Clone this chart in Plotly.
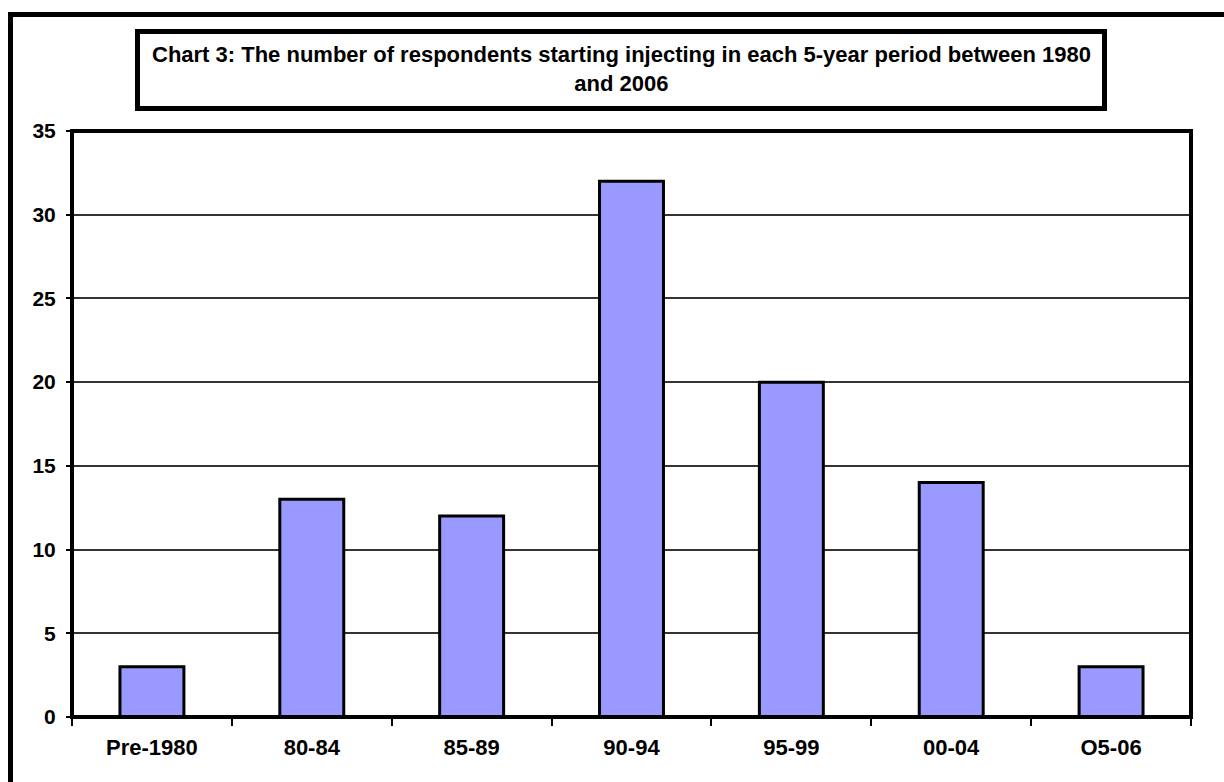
import plotly.graph_objects as go

# Chart data
periods = ["Pre-1980", "80-84", "85-89", "90-94", "95-99", "00-04", "O5-06"]
respondents = [3, 13, 12, 32, 20, 14, 3]
y_ticks = [0, 5, 10, 15, 20, 25, 30, 35]

title_text = ("Chart 3: The number of respondents starting injecting in each "
              "5-year period between 1980<br>and 2006")

W, H = 1224, 782
ML, MR, MT, MB = 72, 33, 131, 65
PW, PH = W - ML - MR, H - MT - MB
FONT = "Arial, Liberation Sans, sans-serif"


def px_x(px):
    return (px - ML) / PW


def px_y(py):
    return (H - MB - py) / PH


fig = go.Figure(
    go.Bar(
        x=periods,
        y=respondents,
        marker=dict(color="#9999FF", line=dict(color="black", width=3)),
    )
)

fig.update_layout(
    width=W,
    height=H,
    margin=dict(l=ML, r=MR, t=MT, b=MB, pad=0),
    paper_bgcolor="white",
    plot_bgcolor="white",
    bargap=0.6,
    showlegend=False,
    font=dict(family=FONT, color="black"),
    xaxis=dict(
        type="category",
        showgrid=False,
        showline=False,
        zeroline=False,
        ticks="outside",
        tickson="boundaries",
        ticklen=8,
        tickwidth=1.5,
        tickcolor="black",
        tickfont=dict(family=FONT, size=22, color="black", weight="bold"),
        ticklabelstandoff=15,
    ),
    yaxis=dict(
        range=[0, 35],
        tickvals=y_ticks,
        showgrid=True,
        gridcolor="#333333",
        gridwidth=1.5,
        showline=False,
        zeroline=False,
        ticks="outside",
        ticklen=5,
        tickwidth=1.5,
        tickcolor="black",
        tickfont=dict(family=FONT, size=21, color="black", weight="bold"),
        ticklabelstandoff=6,
    ),
    shapes=[
        # plot area frame
        dict(type="rect", xref="paper", yref="paper", x0=0, x1=1, y0=0, y1=1,
             line=dict(color="black", width=4), layer="above"),
        # title box
        dict(type="rect", xref="paper", yref="paper",
             x0=px_x(137.5), x1=px_x(1104.5), y0=px_y(108.5), y1=px_y(31.5),
             line=dict(color="black", width=5), fillcolor="white", layer="above"),
        # outer chart frame
        dict(type="rect", xref="paper", yref="paper",
             x0=px_x(10.5), x1=px_x(1240), y0=px_y(800), y1=px_y(14.5),
             line=dict(color="black", width=5), layer="above"),
    ],
    annotations=[
        dict(text=title_text, xref="paper", yref="paper",
             x=px_x(621), y=px_y(69), xanchor="center", yanchor="middle",
             showarrow=False, align="center",
             font=dict(family=FONT, size=22, color="black", weight="bold")),
    ],
)

fig.write_html("out.html")
